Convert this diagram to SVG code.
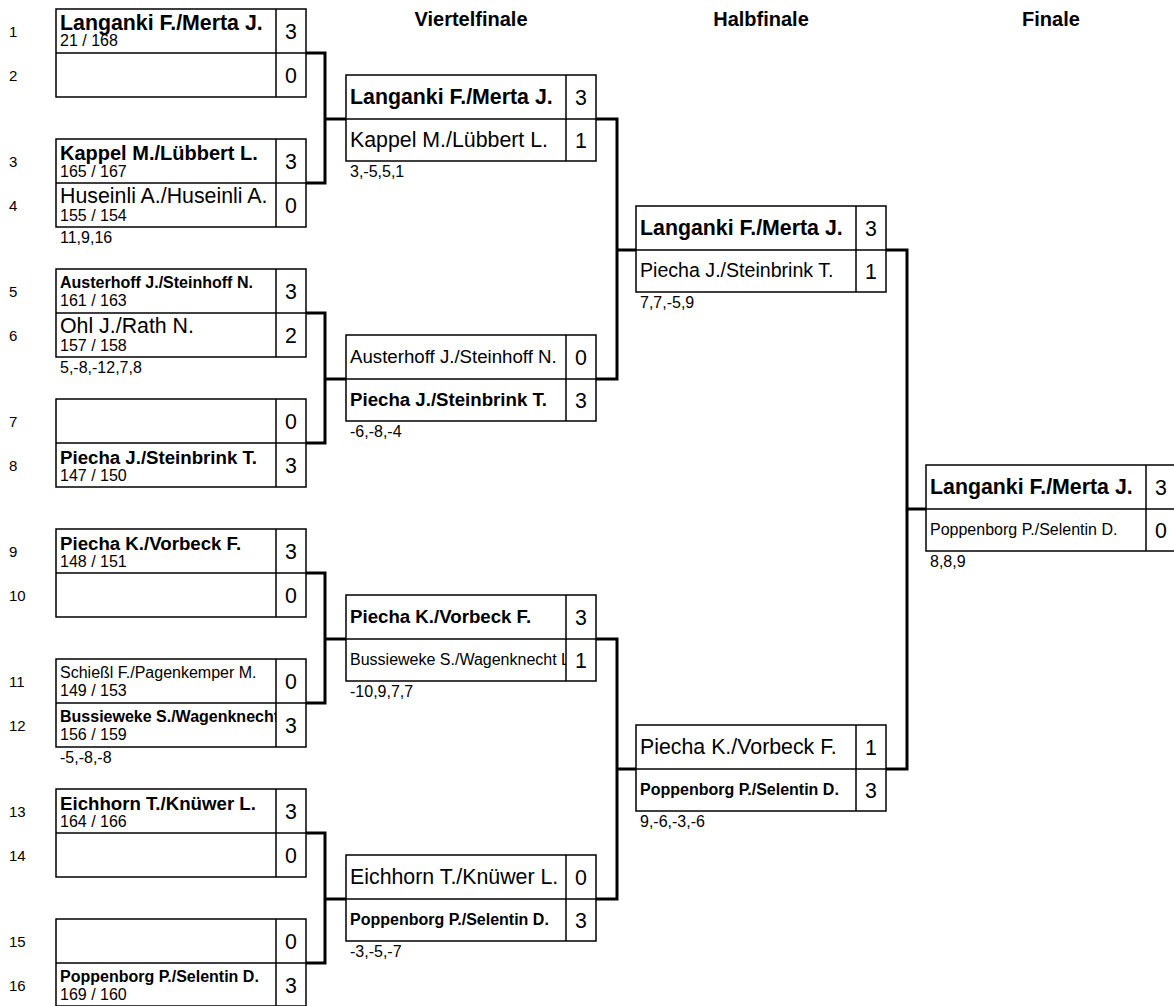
<svg xmlns="http://www.w3.org/2000/svg" width="1174" height="1006" viewBox="0 0 1174 1006">
<style>
.t{font-family:"Liberation Sans",Arial,Helvetica,sans-serif;fill:#000}
.b{font-weight:bold}
.box{fill:#fff;stroke:#000;stroke-width:1.5}
.ln{stroke:#000;stroke-width:1.5}
.con{fill:none;stroke:#000;stroke-width:3}
.f21{font-size:21.33px}
.f20{font-size:20px}
.f19{font-size:18.67px}
.f16{font-size:16px}
.f15{font-size:15px}
.sc{font-size:21.33px;text-anchor:middle}
.hd{font-size:20px;font-weight:bold;text-anchor:middle}
</style>
<defs>
<clipPath id="clipA"><rect x="56" y="703" width="220" height="44"/></clipPath>
<clipPath id="clipB"><rect x="346" y="639" width="220" height="42"/></clipPath>
</defs>
<rect width="1174" height="1006" fill="#fff"/>
<g id="headers">
<text class="t hd" x="471" y="26">Viertelfinale</text>
<text class="t hd" x="761" y="26">Halbfinale</text>
<text class="t hd" x="1051" y="26">Finale</text>
</g>
<g id="rownumbers" class="t f15">
<text x="9" y="37">1</text><text x="9" y="81">2</text>
<text x="9" y="167">3</text><text x="9" y="211">4</text>
<text x="9" y="297">5</text><text x="9" y="341">6</text>
<text x="9" y="427">7</text><text x="9" y="471">8</text>
<text x="9" y="557">9</text><text x="9" y="601">10</text>
<text x="9" y="687">11</text><text x="9" y="731">12</text>
<text x="9" y="817">13</text><text x="9" y="861">14</text>
<text x="9" y="947">15</text><text x="9" y="991">16</text>
</g>
<g id="connectors">
<path class="con" d="M306,53H325V183H306M325,119H346"/>
<path class="con" d="M306,313H325V443H306M325,379H346"/>
<path class="con" d="M306,573H325V703H306M325,639H346"/>
<path class="con" d="M306,833H325V963H306M325,899H346"/>
<path class="con" d="M596,119H617V379H596M617,250H636"/>
<path class="con" d="M596,639H617V899H596M617,769H636"/>
<path class="con" d="M886,250H907V769H886M907,509H926"/>
</g>
<!-- Round 1 -->
<g id="r1m1">
<rect class="box" x="56" y="9" width="250" height="88"/>
<line class="ln" x1="56" y1="53" x2="306" y2="53"/><line class="ln" x1="276" y1="9" x2="276" y2="97"/>
<text class="t b f21" x="60" y="30">Langanki F./Merta J.</text>
<text class="t f16" x="60" y="46">21 / 168</text>
<text class="t sc" x="291" y="39">3</text>
<text class="t sc" x="291" y="83">0</text>
</g>
<g id="r1m2">
<rect class="box" x="56" y="139" width="250" height="88"/>
<line class="ln" x1="56" y1="183" x2="306" y2="183"/><line class="ln" x1="276" y1="139" x2="276" y2="227"/>
<text class="t b f20" x="60" y="160">Kappel M./Lübbert L.</text>
<text class="t f16" x="60" y="177">165 / 167</text>
<text class="t sc" x="291" y="169">3</text>
<text class="t f21" x="60" y="203">Huseinli A./Huseinli A.</text>
<text class="t f16" x="60" y="221">155 / 154</text>
<text class="t sc" x="291" y="213">0</text>
<text class="t f16" x="60" y="243">11,9,16</text>
</g>
<g id="r1m3">
<rect class="box" x="56" y="269" width="250" height="88"/>
<line class="ln" x1="56" y1="313" x2="306" y2="313"/><line class="ln" x1="276" y1="269" x2="276" y2="357"/>
<text class="t b f16" x="60" y="288">Austerhoff J./Steinhoff N.</text>
<text class="t f16" x="60" y="306">161 / 163</text>
<text class="t sc" x="291" y="299">3</text>
<text class="t f21" x="60" y="333">Ohl J./Rath N.</text>
<text class="t f16" x="60" y="351">157 / 158</text>
<text class="t sc" x="291" y="343">2</text>
<text class="t f16" x="60" y="373">5,-8,-12,7,8</text>
</g>
<g id="r1m4">
<rect class="box" x="56" y="399" width="250" height="88"/>
<line class="ln" x1="56" y1="443" x2="306" y2="443"/><line class="ln" x1="276" y1="399" x2="276" y2="487"/>
<text class="t sc" x="291" y="429">0</text>
<text class="t b f19" x="60" y="464">Piecha J./Steinbrink T.</text>
<text class="t f16" x="60" y="481">147 / 150</text>
<text class="t sc" x="291" y="473">3</text>
</g>
<g id="r1m5">
<rect class="box" x="56" y="529" width="250" height="88"/>
<line class="ln" x1="56" y1="573" x2="306" y2="573"/><line class="ln" x1="276" y1="529" x2="276" y2="617"/>
<text class="t b f19" x="60" y="550">Piecha K./Vorbeck F.</text>
<text class="t f16" x="60" y="567">148 / 151</text>
<text class="t sc" x="291" y="559">3</text>
<text class="t sc" x="291" y="603">0</text>
</g>
<g id="r1m6">
<rect class="box" x="56" y="659" width="250" height="88"/>
<line class="ln" x1="56" y1="703" x2="306" y2="703"/><line class="ln" x1="276" y1="659" x2="276" y2="747"/>
<text class="t f16" x="60" y="678">Schießl F./Pagenkemper M.</text>
<text class="t f16" x="60" y="696">149 / 153</text>
<text class="t sc" x="291" y="689">0</text>
<g clip-path="url(#clipA)"><text class="t b f16" x="60" y="722">Bussieweke S./Wagenknecht L.</text></g>
<text class="t f16" x="60" y="740">156 / 159</text>
<text class="t sc" x="291" y="733">3</text>
<text class="t f16" x="60" y="763">-5,-8,-8</text>
</g>
<g id="r1m7">
<rect class="box" x="56" y="789" width="250" height="88"/>
<line class="ln" x1="56" y1="833" x2="306" y2="833"/><line class="ln" x1="276" y1="789" x2="276" y2="877"/>
<text class="t b f19" x="60" y="810">Eichhorn T./Knüwer L.</text>
<text class="t f16" x="60" y="827">164 / 166</text>
<text class="t sc" x="291" y="819">3</text>
<text class="t sc" x="291" y="863">0</text>
</g>
<g id="r1m8">
<rect class="box" x="56" y="919" width="250" height="87"/>
<line class="ln" x1="56" y1="963" x2="306" y2="963"/><line class="ln" x1="276" y1="919" x2="276" y2="1006"/>
<text class="t sc" x="291" y="949">0</text>
<text class="t b f16" x="60" y="982">Poppenborg P./Selentin D.</text>
<text class="t f16" x="60" y="1000">169 / 160</text>
<text class="t sc" x="291" y="993">3</text>
</g>
<!-- Viertelfinale -->
<g id="qf1">
<rect class="box" x="346" y="75" width="250" height="86"/>
<line class="ln" x1="346" y1="119" x2="596" y2="119"/><line class="ln" x1="566" y1="75" x2="566" y2="161"/>
<text class="t b f21" x="350" y="104">Langanki F./Merta J.</text>
<text class="t sc" x="581" y="105">3</text>
<text class="t f21" x="350" y="147">Kappel M./Lübbert L.</text>
<text class="t sc" x="581" y="148">1</text>
<text class="t f16" x="350" y="177">3,-5,5,1</text>
</g>
<g id="qf2">
<rect class="box" x="346" y="335" width="250" height="86"/>
<line class="ln" x1="346" y1="379" x2="596" y2="379"/><line class="ln" x1="566" y1="335" x2="566" y2="421"/>
<text class="t f19" x="350" y="363">Austerhoff J./Steinhoff N.</text>
<text class="t sc" x="581" y="365">0</text>
<text class="t b f19" x="350" y="406">Piecha J./Steinbrink T.</text>
<text class="t sc" x="581" y="408">3</text>
<text class="t f16" x="350" y="437">-6,-8,-4</text>
</g>
<g id="qf3">
<rect class="box" x="346" y="595" width="250" height="86"/>
<line class="ln" x1="346" y1="639" x2="596" y2="639"/><line class="ln" x1="566" y1="595" x2="566" y2="681"/>
<text class="t b f19" x="350" y="623">Piecha K./Vorbeck F.</text>
<text class="t sc" x="581" y="625">3</text>
<g clip-path="url(#clipB)"><text class="t f16" x="350" y="665">Bussieweke S./Wagenknecht L.</text></g>
<text class="t sc" x="581" y="668">1</text>
<text class="t f16" x="350" y="697">-10,9,7,7</text>
</g>
<g id="qf4">
<rect class="box" x="346" y="855" width="250" height="86"/>
<line class="ln" x1="346" y1="899" x2="596" y2="899"/><line class="ln" x1="566" y1="855" x2="566" y2="941"/>
<text class="t f21" x="350" y="884">Eichhorn T./Knüwer L.</text>
<text class="t sc" x="581" y="885">0</text>
<text class="t b f16" x="350" y="925">Poppenborg P./Selentin D.</text>
<text class="t sc" x="581" y="928">3</text>
<text class="t f16" x="350" y="957">-3,-5,-7</text>
</g>
<!-- Halbfinale -->
<g id="sf1">
<rect class="box" x="636" y="206" width="250" height="86"/>
<line class="ln" x1="636" y1="250" x2="886" y2="250"/><line class="ln" x1="856" y1="206" x2="856" y2="292"/>
<text class="t b f21" x="640" y="235">Langanki F./Merta J.</text>
<text class="t sc" x="871" y="236">3</text>
<text class="t" style="font-size:19.6px" x="640" y="277">Piecha J./Steinbrink T.</text>
<text class="t sc" x="871" y="279">1</text>
<text class="t f16" x="640" y="308">7,7,-5,9</text>
</g>
<g id="sf2">
<rect class="box" x="636" y="725" width="250" height="86"/>
<line class="ln" x1="636" y1="769" x2="886" y2="769"/><line class="ln" x1="856" y1="725" x2="856" y2="811"/>
<text class="t f21" x="640" y="754">Piecha K./Vorbeck F.</text>
<text class="t sc" x="871" y="755">1</text>
<text class="t b f16" x="640" y="795">Poppenborg P./Selentin D.</text>
<text class="t sc" x="871" y="798">3</text>
<text class="t f16" x="640" y="827">9,-6,-3,-6</text>
</g>
<!-- Finale -->
<g id="final">
<rect class="box" x="926" y="465" width="250" height="86"/>
<line class="ln" x1="926" y1="509" x2="1176" y2="509"/><line class="ln" x1="1146" y1="465" x2="1146" y2="551"/>
<text class="t b f21" x="930" y="494">Langanki F./Merta J.</text>
<text class="t sc" x="1161" y="495">3</text>
<text class="t f16" x="930" y="535">Poppenborg P./Selentin D.</text>
<text class="t sc" x="1161" y="538">0</text>
<text class="t f16" x="930" y="567">8,8,9</text>
</g>
</svg>
